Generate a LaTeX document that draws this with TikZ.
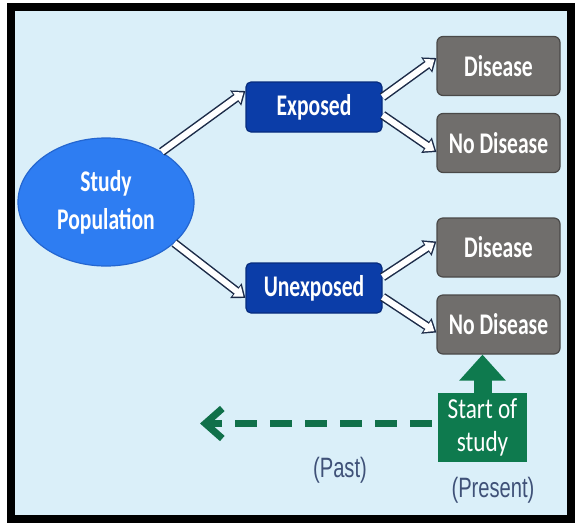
\documentclass[tikz,border=0pt]{standalone}
\usepackage{fontspec}
\usetikzlibrary{arrows.meta,shapes.geometric}
\newfontfamily\boxfont{Carlito}[FakeStretch=0.72]
\newfontfamily\notefont{Carlito}[FakeStretch=0.8]
\newfontfamily\timefont{Liberation Sans}[FakeStretch=0.72]
\definecolor{bgblue}{HTML}{DAEFF9}
\definecolor{popblue}{HTML}{2E7DF2}
\definecolor{popedge}{HTML}{2466D0}
\definecolor{expblue}{HTML}{0B3DA8}
\definecolor{expedge}{HTML}{072C7E}
\definecolor{boxgray}{HTML}{706E6C}
\definecolor{grayedge}{HTML}{4A4948}
\definecolor{startgreen}{HTML}{0E7A4E}
\definecolor{dashgreen}{HTML}{10704A}
\definecolor{arrowline}{HTML}{1C2B48}
\definecolor{timetext}{HTML}{3F5178}
% hollow block arrow: dark outline layer, then white interior layer
\newcommand{\hollowarrow}[2]{%
  \draw[hollowout] #1 -- #2;
  \draw[hollowin] #1 -- #2;}
\begin{document}
\begin{tikzpicture}[x=1pt,y=-1pt,
  boxtext/.style={text=white, font=\boxfont\bfseries\fontsize{30}{38}\selectfont, inner sep=0pt, align=center},
  popnode/.style={boxtext, ellipse, fill=popblue, draw=popedge, line width=1.2pt,
    minimum width=176pt, minimum height=128pt},
  groupbox/.style={boxtext, rounded corners=5pt, fill=expblue, draw=expedge, line width=1.2pt,
    minimum width=136pt, minimum height=50pt},
  outcomebox/.style={boxtext, rounded corners=6pt, fill=boxgray, draw=grayedge, line width=1.2pt,
    minimum width=123pt, minimum height=59pt},
  startbox/.style={fill=startgreen, text=white, font=\notefont\fontsize{29}{33}\selectfont,
    align=center, inner sep=0pt, minimum width=89pt, minimum height=69pt},
  timelabel/.style={text=timetext, font=\timefont\fontsize{28}{30}\selectfont, inner sep=0pt},
  hollowout/.style={draw=arrowline, line width=9pt, -{Triangle[length=12pt,width=18pt]}},
  hollowin/.style={draw=white, line width=6pt, shorten >=2.4pt, -{Triangle[length=8.6pt,width=13pt]}},
  uparrow/.style={draw=startgreen, line width=18pt, -{Triangle[length=26pt,width=45pt]}},
  pastarrow/.style={draw=dashgreen, line width=7pt, dash pattern=on 22pt off 13pt, dash phase=29pt,
    -{Straight Barb[length=17pt,width=30pt]}}
]
\useasboundingbox (0,0) rectangle (575,523);
% frame and background
\fill[black] (7,3) rectangle (575,523);
\fill[bgblue] (15,11) rectangle (567,515);

% nodes
\node[popnode] (pop) at (106,202) {Study\\Population};
\node[groupbox] (exp) at (314,107) {Exposed};
\node[groupbox] (unexp) at (314,288) {Unexposed};
\node[outcomebox] (d1) at (498.5,66) {Disease};
\node[outcomebox] (nd1) at (498.5,143) {No Disease};
\node[outcomebox] (d2) at (498.5,247.5) {Disease};
\node[outcomebox] (nd2) at (498.5,324.5) {No Disease};
\node[startbox] (sos) at (482.5,427.5) {Start of\\study};
\node[timelabel] (past) at (340,470) {(Past)};
\node[timelabel] (present) at (493,490) {(Present)};
\coordinate (pastend) at (200,423.5);

% branching arrows
\hollowarrow{(pop.42)}{([yshift=16pt]exp.west)}
\hollowarrow{(pop.-31)}{([yshift=-10pt]unexp.west)}
\hollowarrow{([yshift=10pt]exp.east)}{([yshift=8pt]d1.west)}
\hollowarrow{([yshift=-8pt]exp.east)}{([yshift=-9pt]nd1.west)}
\hollowarrow{([yshift=11pt]unexp.east)}{([yshift=6pt]d2.west)}
\hollowarrow{([yshift=-9pt]unexp.east)}{([yshift=-8pt]nd2.west)}

% time arrows
\draw[uparrow] (sos.north) -- (sos.north |- nd2.south);
\draw[pastarrow] ([yshift=4pt]sos.west) -- (pastend);
\end{tikzpicture}
\end{document}
